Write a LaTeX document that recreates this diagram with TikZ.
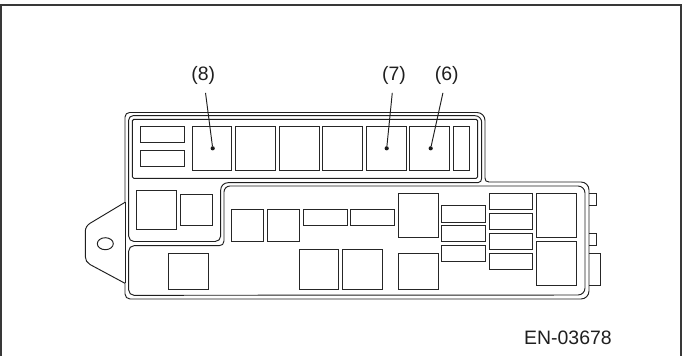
\documentclass[tikz,border=0pt]{standalone}
\usepackage{fontspec}
\setmainfont{Liberation Sans}
\newcommand{\fbx}[4]{\draw[part] (#1,#2) rectangle (#3,#4);}
\tikzset{
  part/.style={draw=black!85,line width=0.95bp},
  shell/.style={draw=black!88,line width=0.95bp,line join=round},
  framing/.style={draw=black!78,line width=1.7bp},
  calllabel/.style={inner sep=0pt,minimum width=24bp,minimum height=34bp,font=\fontsize{19.5}{21}\selectfont,text=black!88},
  leader/.style={draw=black!88,line width=0.95bp},
  tipdot/.style={circle,fill=black!90,inner sep=0pt,minimum size=4.2bp}
}
\begin{document}
\begin{tikzpicture}[x=1bp,y=-1bp]
\useasboundingbox (0,0) rectangle (682,356);
\clip (0,0) rectangle (682,356);
% frame
\draw[framing] (1,356) -- (1,5) -- (681,5) -- (681,356);
% outer shell with mounting tab
\draw[shell] (125,202.3) -- (125,117) arc[start angle=180,end angle=270,radius=4.5] -- (477,112.5)
  arc[start angle=-90,end angle=0,radius=8] -- (485,178) .. controls (485,180.5) and (486,182) .. (489,182)
  -- (581,182) arc[start angle=-90,end angle=0,radius=8] -- (589,291) arc[start angle=0,end angle=90,radius=8]
  -- (130,299) arc[start angle=90,end angle=180,radius=5] -- (125,283.3)
  -- (90,264.5) .. controls (87,262.8) and (85.3,260) .. (85.3,256.7) -- (85.3,231.7)
  .. controls (85.3,228) and (87,225.3) .. (90,223.3) -- cycle;
\draw[shell] (125,202.3) -- (125,283.3);
% upper / left compartment
\draw[shell] (128.7,120) arc[start angle=180,end angle=270,radius=4.3] -- (475,115.7)
  arc[start angle=-90,end angle=0,radius=6.7] -- (481.7,178) .. controls (481.7,180.5) and (480.5,182.5) .. (478,182.7)
  -- (228,182.7) arc[start angle=-90,end angle=-180,radius=7.3] -- (220.7,236)
  arc[start angle=0,end angle=90,radius=5.5] -- (134,241.5) arc[start angle=90,end angle=180,radius=5.3] -- cycle;
% right / lower compartment
\draw[shell] (224,192) arc[start angle=180,end angle=270,radius=6] -- (578,186)
  arc[start angle=-90,end angle=0,radius=7] -- (585,288) arc[start angle=0,end angle=90,radius=7]
  -- (134,295.3) arc[start angle=90,end angle=180,radius=5.3] -- (128.7,251) arc[start angle=180,end angle=270,radius=5.3]
  -- (219,245.7) .. controls (222,245.7) and (224,244) .. (224,241) -- cycle;
% inner tray of the upper row
\draw[shell,rounded corners=1.5bp] (132.3,119.3) rectangle (477.7,178.3);
% mounting hole
\draw[shell] (105.3,243.7) ellipse[x radius=8,y radius=6];
% upper row
\fbx{140.7}{126.7}{184.3}{142.7}
\fbx{140.7}{150.3}{184.3}{166.3}
\fbx{192.3}{126.7}{231.7}{170.7}
\fbx{235.3}{126.7}{275.7}{170.7}
\fbx{279.7}{126.7}{319}{170.7}
\fbx{322.7}{126.7}{362.7}{170.7}
\fbx{366.3}{126.7}{406}{170.7}
\fbx{409.7}{126.7}{449.3}{170.7}
\fbx{453.3}{126.7}{469.3}{170.7}
% left compartment
\fbx{136.7}{190}{176.7}{229.7}
\fbx{180.3}{194}{212.3}{225.7}
% right compartment
\fbx{231.7}{209.7}{263.7}{241.7}
\fbx{267.3}{209.7}{299.3}{241.7}
\fbx{303}{209.7}{347}{225.7}
\fbx{350.3}{209.7}{394.3}{225.7}
\fbx{398}{193.7}{438}{237.7}
\fbx{441.3}{205.7}{485.7}{222}
\fbx{441.3}{225.7}{485.7}{241.7}
\fbx{441.3}{245.7}{485.7}{261.3}
\fbx{489}{193.7}{532.7}{209.7}
\fbx{489}{213.7}{532.7}{229.7}
\fbx{489}{233.7}{532.7}{249.7}
\fbx{489}{253.3}{532.7}{269.3}
\fbx{536.7}{193.7}{576.3}{237.7}
\fbx{536.7}{241.7}{576.3}{285.3}
% lower row
\fbx{168.7}{253.3}{208.3}{289}
\fbx{299}{249.3}{338.7}{289}
\fbx{342.7}{249.3}{382.3}{289}
\fbx{398}{253.3}{438}{289}
% connectors on the right edge
\draw[part] (589.3,193.3) -- (596.3,193.3) -- (596.3,205.7) -- (589.3,205.7);
\draw[part] (589.3,233.3) -- (596.3,233.3) -- (596.3,245.7) -- (589.3,245.7);
\draw[part] (589.3,253.3) -- (600,253.3) -- (600,285) -- (589.3,285);
% callouts
\node[calllabel] (l8) at (203.3,75.7) {(8)};
\node[calllabel] (l7) at (394,75.7) {(7)};
\node[calllabel] (l6) at (446.7,75.7) {(6)};
\node[tipdot] (d8) at (212.7,148.3) {};
\node[tipdot] (d7) at (386.7,148.3) {};
\node[tipdot] (d6) at (430.7,148.3) {};
\draw[leader] (l8) -- (d8);
\draw[leader] (l7) -- (d7);
\draw[leader] (l6) -- (d6);
\node[anchor=west,inner sep=0pt,font=\fontsize{19.5}{21}\selectfont,text=black!88] (code) at (524,337.7) {EN-03678};
\end{tikzpicture}
\end{document}
